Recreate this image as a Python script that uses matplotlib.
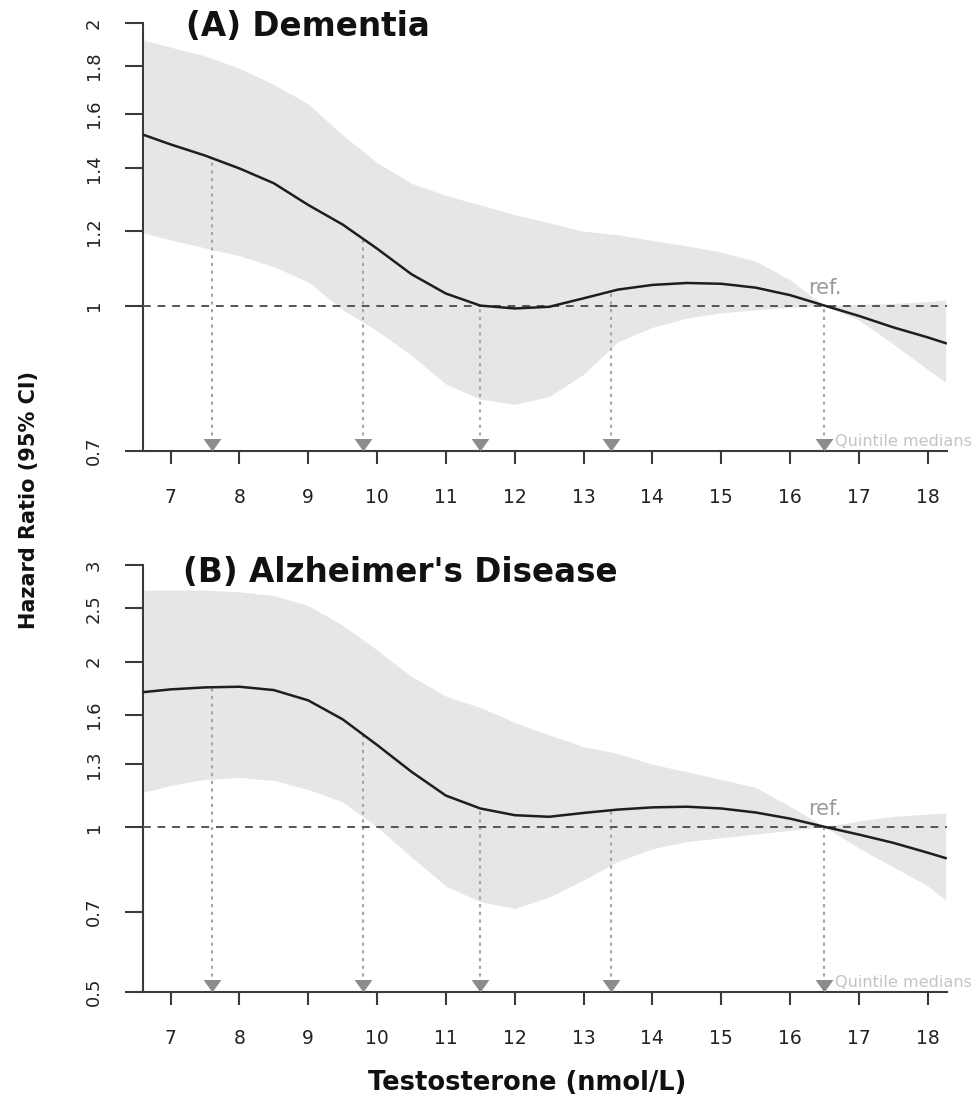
import numpy as np
import matplotlib
matplotlib.use("Agg")
import matplotlib.pyplot as plt
from matplotlib.ticker import FixedLocator, FixedFormatter, NullLocator

# ---------------- data ----------------
testosterone = [6.61, 7.0, 7.5, 8.0, 8.5, 9.0, 9.5, 10.0, 10.5, 11.0, 11.5, 12.0, 12.5,
                13.0, 13.5, 14.0, 14.5, 15.0, 15.5, 16.0, 16.5, 17.0, 17.5, 18.0, 18.26]

dementia_hr = [1.52, 1.485, 1.445, 1.40, 1.35, 1.28, 1.22, 1.15, 1.08, 1.03, 1.0, 0.993, 0.997,
               1.018, 1.04, 1.052, 1.057, 1.055, 1.045, 1.026, 1.0, 0.975, 0.948, 0.925, 0.912]
dementia_lo = [1.195, 1.175, 1.152, 1.13, 1.10, 1.06, 0.99, 0.94, 0.885, 0.825, 0.795, 0.785, 0.80,
               0.845, 0.915, 0.948, 0.97, 0.982, 0.99, 0.996, 1.0, 0.965, 0.91, 0.855, 0.829]
dementia_hi = [1.918, 1.885, 1.845, 1.79, 1.72, 1.64, 1.52, 1.42, 1.35, 1.31, 1.28, 1.25, 1.225,
               1.20, 1.19, 1.173, 1.158, 1.14, 1.115, 1.065, 1.0, 1.003, 1.005, 1.01, 1.014]

alzheimer_hr = [1.76, 1.78, 1.795, 1.80, 1.775, 1.70, 1.57, 1.41, 1.26, 1.14, 1.08, 1.05, 1.043,
                1.06, 1.075, 1.085, 1.088, 1.08, 1.062, 1.035, 1.0, 0.968, 0.935, 0.897, 0.877]
alzheimer_lo = [1.157, 1.19, 1.22, 1.23, 1.215, 1.17, 1.11, 1.0, 0.88, 0.78, 0.73, 0.71, 0.745,
                0.80, 0.865, 0.912, 0.94, 0.955, 0.97, 0.985, 1.0, 0.915, 0.845, 0.78, 0.736]
alzheimer_hi = [2.70, 2.70, 2.70, 2.68, 2.64, 2.53, 2.33, 2.10, 1.88, 1.73, 1.65, 1.55, 1.47,
                1.40, 1.36, 1.30, 1.26, 1.22, 1.18, 1.09, 1.0, 1.025, 1.045, 1.055, 1.06]

quintile_medians = [7.6, 9.8, 11.5, 13.4, 16.5]
reference_value = 16.5

x_ticks = [7, 8, 9, 10, 11, 12, 13, 14, 15, 16, 17, 18]
dementia_yticks = [0.7, 1, 1.2, 1.4, 1.6, 1.8, 2]
dementia_ylabels = ["0.7", "1", "1.2", "1.4", "1.6", "1.8", "2"]
alzheimer_yticks = [0.5, 0.7, 1, 1.3, 1.6, 2, 2.5, 3]
alzheimer_ylabels = ["0.5", "0.7", "1", "1.3", "1.6", "2", "2.5", "3"]

titles = ["(A) Dementia", "(B) Alzheimer's Disease"]

# ---------------- styling ----------------
plt.rcParams['font.family'] = ['DejaVu Sans']
W, H = 979, 1097
fig = plt.figure(figsize=(W / 100, H / 100), dpi=100)

band_color = '#e6e6e8'
axis_color = '#3a3a3a'
tri_marker = [(-1, 1.4), (1, 1.4), (0, 0), (-1, 1.4)]


def panel(rect, hr, lo, hi, ylim, yticks, ylabels):
    ax = fig.add_axes(rect)
    ax.set_yscale('log')
    ax.set_xlim(6.6, 18.28)
    ax.set_ylim(*ylim)
    ax.fill_between(testosterone, lo, hi, color=band_color, lw=0, zorder=1)
    ax.axhline(1, color='#555555', lw=1.4, ls=(0, (4, 3.5)), zorder=3)
    ax.plot(testosterone, hr, color='#1e1e1e', lw=1.8, zorder=4,
            solid_joinstyle='round')
    for m in quintile_medians:
        top = float(np.interp(m, testosterone, hr))
        ax.plot([m, m], [ylim[0], top], color='#a5a5a5', lw=1.5,
                ls=(0, (1.5, 2.2)), zorder=2)
    ax.plot(quintile_medians, [ylim[0]] * len(quintile_medians), ls='none',
            marker=tri_marker, ms=18, color='#8c8c8c', mec='none',
            clip_on=False, zorder=6)
    ax.annotate('ref.', xy=(reference_value, 1), xytext=(0, 8.5),
                textcoords='offset points', ha='center', va='baseline',
                fontsize=15, color='#9a9a9a')
    ax.annotate('Quintile medians', xy=(reference_value, ylim[0]), xytext=(7.5, 6.5),
                textcoords='offset points', ha='left', va='center',
                fontsize=11.6, color='#c4c4c4', annotation_clip=False)

    for s in ['top', 'right']:
        ax.spines[s].set_visible(False)
    for s in ['left', 'bottom']:
        ax.spines[s].set_linewidth(1.5)
        ax.spines[s].set_color(axis_color)

    ax.xaxis.set_major_locator(FixedLocator(x_ticks))
    ax.xaxis.set_major_formatter(FixedFormatter([str(t) for t in x_ticks]))
    ax.xaxis.set_minor_locator(NullLocator())
    ax.yaxis.set_major_locator(FixedLocator(yticks))
    ax.yaxis.set_major_formatter(FixedFormatter(ylabels))
    ax.yaxis.set_minor_locator(NullLocator())
    ax.tick_params(axis='x', length=9.4, width=1.5, pad=17, labelsize=13.5,
                   color=axis_color, labelcolor='#222222')
    ax.tick_params(axis='y', length=13, width=1.5, pad=16, labelsize=13,
                   color=axis_color, labelcolor='#222222')
    for lab in ax.get_yticklabels():
        lab.set_rotation(90)
        lab.set_va('center')
        lab.set_ha('right')
    ax.patch.set_alpha(0)
    return ax


axA = panel([143 / W, 1 - 451 / H, 804 / W, 428 / H], dementia_hr, dementia_lo,
            dementia_hi, (0.7, 2), dementia_yticks, dementia_ylabels)
axB = panel([143 / W, 1 - 992 / H, 804 / W, 427 / H], alzheimer_hr, alzheimer_lo,
            alzheimer_hi, (0.5, 3), alzheimer_yticks, alzheimer_ylabels)

fig.text(186 / W, 1 - 27 / H, titles[0], fontsize=23.5, fontweight='bold',
         ha='left', va='center', color='#111111')
fig.text(183 / W, 1 - 572 / H, titles[1], fontsize=23.5, fontweight='bold',
         ha='left', va='center', color='#111111')
fig.text(29 / W, 1 - 500 / H, 'Hazard Ratio (95% CI)', rotation=90, fontsize=15,
         fontweight='bold', ha='center', va='center', color='#111111')
fig.text(527 / W, 1 - 1083 / H, 'Testosterone (nmol/L)', fontsize=18.5,
         fontweight='bold', ha='center', va='center', color='#111111')

fig.savefig('out.png', dpi=100)
